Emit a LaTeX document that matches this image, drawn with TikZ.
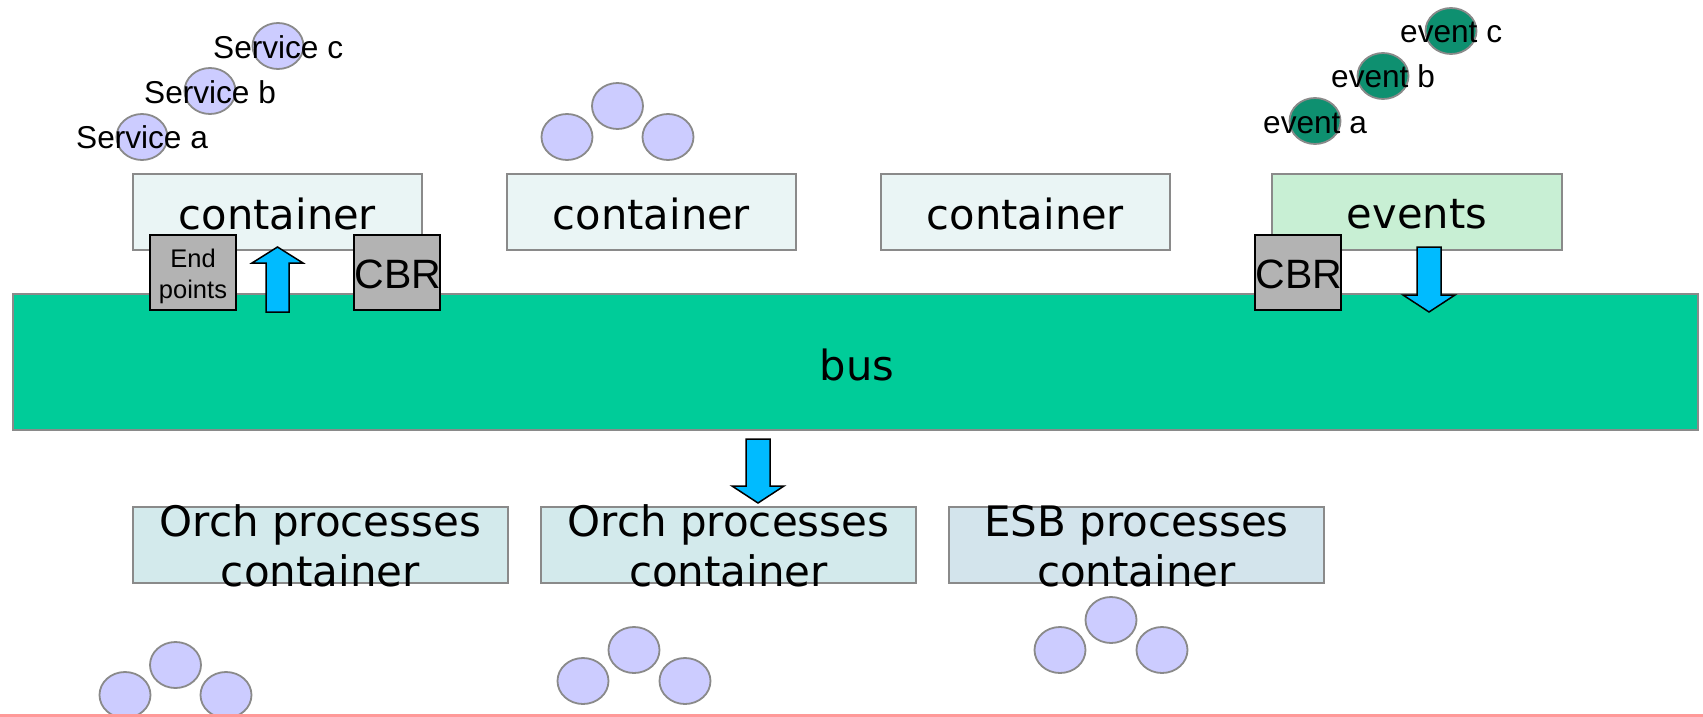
\documentclass[tikz,border=0pt]{standalone}
\usepackage{fontspec}
\setmainfont{Liberation Sans}
\newfontfamily\dvs{DejaVu Sans}
\usetikzlibrary{shapes.geometric}
\definecolor{contfill}{HTML}{EAF5F5}
\definecolor{orchfill}{HTML}{D3EAEC}
\definecolor{esbfill}{HTML}{D3E4EC}
\definecolor{evfill}{HTML}{C8EFD4}
\definecolor{busfill}{HTML}{00CC99}
\definecolor{grayfill}{HTML}{B3B3B3}
\definecolor{bordergray}{HTML}{8A8A8A}
\definecolor{svcfill}{HTML}{CCCCFF}
\definecolor{evtfill}{HTML}{0E9070}
\definecolor{arrowfill}{HTML}{00BBFF}
\definecolor{pinkline}{HTML}{FF9999}
\begin{document}
\begin{tikzpicture}[x=1pt,y=-1pt,
  cbox/.style={draw=bordergray, line width=2pt, rectangle, inner sep=0pt, minimum height=76pt},
  gbox/.style={draw=black, fill=grayfill, line width=1.8pt, rectangle, inner sep=0pt, minimum width=86pt, minimum height=75pt},
  svc/.style={ellipse, draw=bordergray, fill=svcfill, line width=1.8pt, inner sep=0pt, minimum width=51pt, minimum height=46pt},
  evt/.style={ellipse, draw=bordergray, fill=evtfill, line width=1.8pt, inner sep=0pt, minimum width=51pt, minimum height=46pt},
  bigtxt/.style={anchor=base, inner sep=0pt, font=\dvs\fontsize{41.6}{50}\selectfont},
  orchtxt/.style={anchor=base, inner sep=0pt, font=\dvs\fontsize{42}{50}\selectfont},
  lbl/.style={anchor=base west, inner sep=0pt, font=\fontsize{31.6}{38}\selectfont},
  cbrtxt/.style={anchor=base, inner sep=0pt, font=\fontsize{41}{48}\selectfont},
  eptxt/.style={anchor=base, inner sep=0pt, font=\fontsize{25.5}{31}\selectfont},
  blockarrow/.style={draw=black, fill=arrowfill, line width=1.5pt, line join=miter}
]
\useasboundingbox (0,0) rectangle (1703,717);
\fill[white] (0,0) rectangle (1703,717);

% top containers
\node[cbox, fill=contfill, minimum width=289pt] (c1) at (277.5,212) {};
\node[cbox, fill=contfill, minimum width=289pt] (c2) at (651.5,212) {};
\node[cbox, fill=contfill, minimum width=289pt] (c3) at (1025.5,212) {};
\node[cbox, fill=evfill, minimum width=290pt] (ev) at (1417,212) {};
\node[bigtxt] (c1t) at (277.5,229) {container};
\node[bigtxt] (c2t) at (651.5,229) {container};
\node[bigtxt] (c3t) at (1025.5,229) {container};
\node[bigtxt] (evt) at (1417,228) {events};

% bus
\node[draw=bordergray, fill=busfill, line width=2pt, rectangle, inner sep=0pt, minimum width=1685pt, minimum height=136pt] (bus) at (855.5,362) {};
\node[bigtxt] (bust) at (857,380) {bus};

% gray boxes
\node[gbox] (ep) at (193,272.5) {};
\node[eptxt] (ep1) at (193,267) {End};
\node[eptxt] (ep2) at (193,298) {points};
\node[gbox] (cbr1) at (397,272.5) {};
\node[cbrtxt] (cbr1t) at (398,288) {CBR};
\node[gbox] (cbr2) at (1298,272.5) {};
\node[cbrtxt] (cbr2t) at (1299,288) {CBR};

% block arrows
\draw[blockarrow] (266,312) -- (266,263) -- (252,263) -- (277.5,247) -- (303,263) -- (289,263) -- (289,312) -- cycle;
\draw[blockarrow] (1417,247) -- (1417,295) -- (1403,295) -- (1429,312) -- (1455,295) -- (1441,295) -- (1441,247) -- cycle;
\draw[blockarrow] (746,439) -- (746,486) -- (732,486) -- (758,503) -- (784,486) -- (770,486) -- (770,439) -- cycle;

% bottom containers
\node[cbox, fill=orchfill, minimum width=375pt] (o1) at (320.5,545) {};
\node[cbox, fill=orchfill, minimum width=375pt] (o2) at (728.5,545) {};
\node[cbox, fill=esbfill, minimum width=375pt] (esb) at (1136.5,545) {};
\node[orchtxt] (o1a) at (320.5,536) {Orch processes};
\node[orchtxt] (o1b) at (320.5,586) {container};
\node[orchtxt] (o2a) at (728.5,536) {Orch processes};
\node[orchtxt] (o2b) at (728.5,586) {container};
\node[orchtxt] (esba) at (1136.5,536) {ESB processes};
\node[orchtxt] (esbb) at (1136.5,586) {container};

% labelled services
\node[svc] (sc) at (278,46) {};
\node[svc] (sb) at (210,91) {};
\node[svc] (sa) at (142,137) {};
\node[lbl] (sct) at (213,59) {Service c};
\node[lbl] (sbt) at (144,103) {Service b};
\node[lbl] (sat) at (76,148) {Service a};

% labelled events
\node[evt] (ec) at (1451,31) {};
\node[evt] (eb) at (1383,76) {};
\node[evt] (ea) at (1315,121) {};
\node[lbl] (ect) at (1400,43) {event c};
\node[lbl] (ebt) at (1331,88) {event b};
\node[lbl] (eat) at (1263,133) {event a};

% clusters
\node[svc] (k1a) at (567,137) {};
\node[svc] (k1b) at (617.5,106) {};
\node[svc] (k1c) at (668,137) {};
\node[svc] (k2a) at (125,695) {};
\node[svc] (k2b) at (175.5,665) {};
\node[svc] (k2c) at (226,695) {};
\node[svc] (k3a) at (583,681) {};
\node[svc] (k3b) at (634,650) {};
\node[svc] (k3c) at (685,681) {};
\node[svc] (k4a) at (1060,650) {};
\node[svc] (k4b) at (1111,620) {};
\node[svc] (k4c) at (1162,650) {};

% bottom pink line
\coordinate (pl) at (0,715.5);
\coordinate (pr) at (1703,715.5);
\draw[pinkline, line width=3.5pt] (pl) -- (pr);
\end{tikzpicture}
\end{document}
